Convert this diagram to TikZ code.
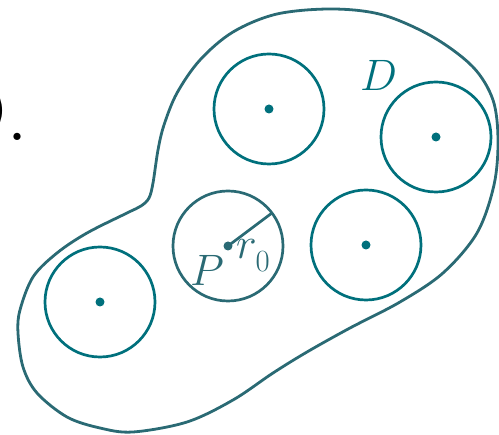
\RequirePackage{fix-cm}
\documentclass[tikz,border=0pt]{standalone}
\usetikzlibrary{calc}
\definecolor{tealc}{RGB}{0,112,124}
\definecolor{outl}{RGB}{42,106,116}
\begin{document}
\begin{tikzpicture}[x=1pt,y=-1pt,
  hole/.style={draw=tealc, line width=2.7pt},
  ctr/.style={circle, fill=tealc, inner sep=0pt, minimum size=9pt},
  lab/.style={inner sep=0pt, font=\fontsize{44}{50}\selectfont}]
\useasboundingbox (0,0) rectangle (499,435);
% outer domain
\draw[outl, line width=2.8pt] plot[smooth cycle, tension=0.55] coordinates {
 (153,183) (158,150) (164,125) (177,93) (200,60) (233,32) (277,14) (333,9)
 (383,15) (433,37) (473,67) (493,100) (498,140) (494,185) (477,233)
 (443,273) (400,302) (350,328) (307,352) (273,373) (233,400) (187,422)
 (133,432) (100,428) (67,417) (37,393) (23,367) (18,333) (20,310) (33,277)
 (57,253) (87,233) (127,213) (141,206) (149,198)};
% centres
\node[ctr] (c1) at (269,109) {};
\node[ctr] (c2) at (436,137) {};
\node[ctr, fill=outl] (cP) at (228,246) {};
\node[ctr] (c4) at (366,245) {};
\node[ctr] (c5) at (100,302) {};
% circles
\draw[hole] (c1.center) circle[radius=55pt];
\draw[hole] (c2.center) circle[radius=55pt];
\draw[hole, draw=outl] (cP.center) circle[radius=55pt];
\draw[hole] (c4.center) circle[radius=55pt];
\draw[hole] (c5.center) circle[radius=55pt];
% radius
\coordinate (rEnd) at ($(cP.center)+(44,-33)$);
\draw[outl, line width=2.7pt] (cP.center) -- (rEnd);
% labels
\node[lab, text=outl, anchor=base west] (Plab) at (190,286) {$P$};
\node[lab, text=outl, anchor=base west] (rlab) at (236,259) {$r_{\lower6pt\hbox{$\scriptstyle 0$}}$};
\node[lab, text=tealc, anchor=base west] (Dlab) at (360,91) {$D$};
% cut-off caption
\node[anchor=base west, inner sep=0pt, font=\fontsize{88}{90}\selectfont] (cap) at (-56,141) {D.};
\end{tikzpicture}
\end{document}
